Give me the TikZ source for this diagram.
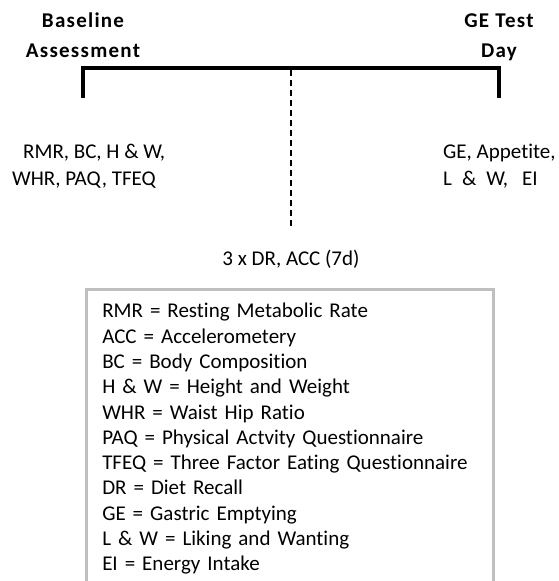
\documentclass[tikz,border=0pt]{standalone}
\usepackage{fontspec}
\setmainfont{Carlito}[Ligatures={NoCommon}]
\usetikzlibrary{positioning}
\definecolor{keygrey}{HTML}{BFBFBF}
\tikzset{
  heading/.style={font=\fontsize{21}{30}\selectfont\bfseries\addfontfeature{LetterSpace=6},
    align=center, inner sep=0pt},
  measure/.style={font=\fontsize{21}{27}\selectfont, align=left, inner sep=0pt},
  timeline/.style={line width=3.5pt, line join=miter},
  window/.style={line width=2pt, dash pattern=on 6pt off 4pt},
  keybox/.style={draw=keygrey, line width=2.5pt, font=\fontsize{21}{25.3}\selectfont,
    align=left, text width=375pt, inner xsep=16pt, inner ysep=14pt},
}

\begin{document}
\begin{tikzpicture}[x=1pt, y=-1pt]
\useasboundingbox (0,0) rectangle (558,581);
% study timeline
\coordinate (bstart) at (83,98);
\coordinate (bcorner) at (83,68);
\coordinate (gcorner) at (499,68);
\coordinate (gend) at (499,98);
\draw[timeline] (bstart) -- (bcorner) -- (gcorner) -- (gend);
% free-living week
\coordinate (wtop) at (291,70);
\coordinate (wend) at (291,226);
\draw[window] (wtop) -- (wend);
\node[heading, anchor=base] (basehead) at (83,57) {Baseline\\Assessment};
\node[heading, anchor=base] (gehead) at (499,57) {GE Test\\Day};
\node[measure, anchor=base west] (basemeas) at (12,185) {\hspace*{11pt}RMR, BC, H \& W,\\WHR, PAQ, TFEQ};
\node[measure, anchor=base west] (gemeas) at (443,185) {GE, Appetite,\\L\hspace{10pt}\&\hspace{10pt}W,\hspace{14pt}EI};
\node[measure, anchor=base] (weekmeas) at (291,265) {3 x DR, ACC (7d)};
% abbreviations
\node[keybox, anchor=north west] (key) at (85,288) {RMR = Resting Metabolic Rate\\
ACC = Accelerometery\\
BC = Body Composition\\
H \& W = Height and Weight\\
WHR = Waist Hip Ratio\\
PAQ = Physical Actvity Questionnaire\\
TFEQ = Three Factor Eating Questionnaire\\
DR = Diet Recall\\
GE = Gastric Emptying\\
L \& W = Liking and Wanting\\
EI = Energy Intake};
\end{tikzpicture}
\end{document}
